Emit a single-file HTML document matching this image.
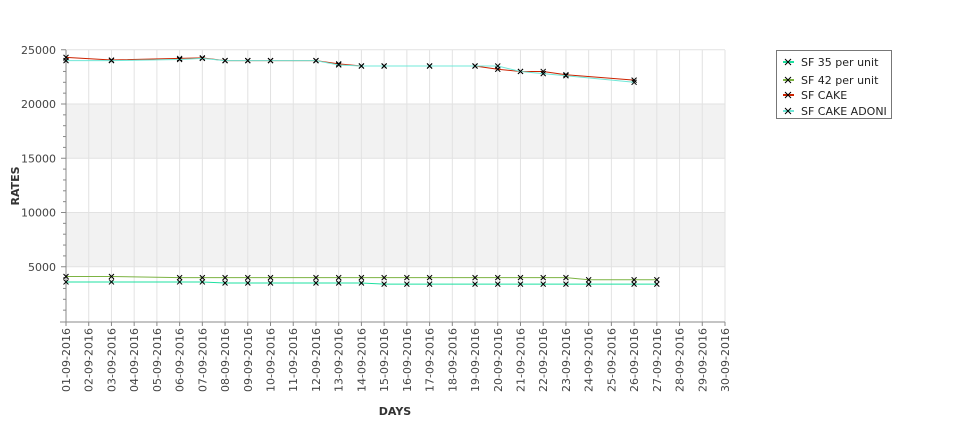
<!DOCTYPE html>
<html><head><meta charset="utf-8"><style>body{margin:0;background:#fff}svg{display:block;font-family:"DejaVu Sans","Liberation Sans",sans-serif}</style></head><body>
<svg id="s" width="975" height="429" xmlns="http://www.w3.org/2000/svg"></svg>
<script>
const s=document.getElementById('s');let h='';
const X=d=>66+(d-1)*(659/29), Y=v=>321-v*0.01085;
h+=`<rect x="66" y="${Y(20000)}" width="659" height="${Y(15000)-Y(20000)}" fill="#f2f2f2"/>`;
h+=`<rect x="66" y="${Y(10000)}" width="659" height="${Y(5000)-Y(10000)}" fill="#f2f2f2"/>`;
for(let d=1;d<=30;d++){const x=X(d);h+=`<line x1="${x}" y1="50" x2="${x}" y2="322" stroke="#e2e2e2"/>`;
const dd=(d<10?'0':'')+d;h+=`<text transform="translate(${x+4},328) rotate(-90)" text-anchor="end" font-size="11" fill="#444">${dd}-09-2016</text>`;
h+=`<line x1="${x}" y1="322" x2="${x}" y2="326" stroke="#888"/>`;}
for(let v=5000;v<=25000;v+=5000){const y=Y(v);h+=`<line x1="66" y1="${y}" x2="725" y2="${y}" stroke="#e2e2e2"/><text x="56" y="${y+4}" text-anchor="end" font-size="11" fill="#444">${v}</text><line x1="61" y1="${y}" x2="66" y2="${y}" stroke="#888"/>`;}
for(let v=1000;v<25000;v+=1000){if(v%5000)h+=`<line x1="63" y1="${Y(v)}" x2="66" y2="${Y(v)}" stroke="#888"/>`;}
h+=`<line x1="66" y1="50" x2="66" y2="322" stroke="#888"/><line x1="60" y1="322" x2="725" y2="322" stroke="#888"/>`;
h+=`<text transform="translate(19,186) rotate(-90)" text-anchor="middle" font-size="11" font-weight="bold" fill="#333">RATES</text>`;
h+=`<text x="395" y="415" text-anchor="middle" font-size="11" font-weight="bold" fill="#333">DAYS</text>`;
const D=[1,3,6,7,8,9,10,12,13,14,15,16,17,19,20,21,22,23,24,26,27];
const s42=D.map(d=>[d,d<=3?4100:d>=24?3800:4000]);
const s35=D.map(d=>[d,d<=7?3600:d<15?3500:3400]);
const cake=[[1,24300],[3,24050],[6,24200],[7,24250],[8,24000],[9,24000],[10,24000],[12,24000],[13,23700],[14,23500],[15,23500],[17,23500],[19,23500],[20,23200],[21,23000],[22,23000],[23,22700],[26,22200]];
const adoni=[[1,24000],[3,24000],[6,24100],[7,24200],[8,24000],[9,24000],[10,24000],[12,24000],[13,23600],[14,23500],[15,23500],[17,23500],[19,23500],[20,23500],[21,23000],[22,22800],[23,22600],[26,22000]];
function ser(p,c){h+=`<polyline fill="none" stroke="${c}" stroke-width="1" points="${p.map(q=>X(q[0])+','+Y(q[1])).join(' ')}"/>`;
p.forEach(q=>{const x=X(q[0]),y=Y(q[1]);h+=`<path d="M${x-2.5} ${y-2.5}L${x+2.5} ${y+2.5}M${x-2.5} ${y+2.5}L${x+2.5} ${y-2.5}" stroke="#000" stroke-width="1"/>`;});}
ser(s42,'#7cb342');ser(s35,'#1de0a0');ser(cake,'#cc2200');ser(adoni,'#70e8d8');
h+=`<rect x="776.5" y="50.5" width="115" height="68" fill="#fff" stroke="#777"/>`;
[['SF 35 per unit','#1de0a0',62],['SF 42 per unit','#7cb342',80],['SF CAKE','#cc2200',95],['SF CAKE ADONI','#70e8d8',111]].forEach(([t,c,y])=>{
h+=`<line x1="783" y1="${y}" x2="794" y2="${y}" stroke="${c}" stroke-width="2"/><path d="M785 ${y-3}L791 ${y+3}M785 ${y+3}L791 ${y-3}" stroke="#000"/><text x="801" y="${y+4}" font-size="11" fill="#222">${t}</text>`;});
s.innerHTML=h;
</script>
</body></html>
